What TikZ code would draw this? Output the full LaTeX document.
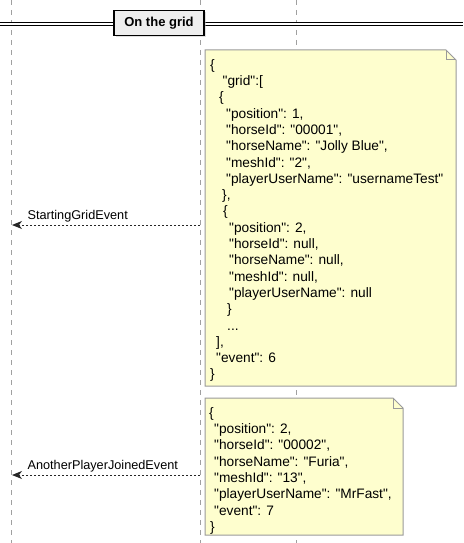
\documentclass[tikz,border=0pt]{standalone}
\usepackage{fontspec}
\setmainfont{Liberation Sans}[Ligatures=TeXOff]
\usetikzlibrary{arrows.meta,positioning,shadows}
\definecolor{notefill}{HTML}{FEFECE}
\definecolor{noteline}{HTML}{9A9A9A}
\definecolor{lifegray}{HTML}{A0A0A0}
\definecolor{divfill}{HTML}{EEEEEE}

\begin{document}
\begin{tikzpicture}[x=1pt,y=-1pt,
   life/.style={lifegray,line width=1pt,dash pattern=on 5pt off 5pt},
   msg/.style={black!85,line width=1pt,dash pattern=on 2pt off 2pt,-{Stealth[length=10pt,width=8pt,inset=3pt]},shorten >=1pt},
   lbl/.style={font=\fontsize{12.7}{15}\selectfont,anchor=base west,inner sep=0pt,text=black},
   note/.style={draw=noteline,fill=notefill,line width=1pt},
   json/.style={font=\fontsize{13.7}{16.3}\selectfont,align=left,anchor=north west,inner sep=0pt},
   divider/.style={draw=black,line width=1.5pt,fill=divfill,font=\bfseries\fontsize{13}{15}\selectfont,
      minimum width=90pt,minimum height=25pt,inner sep=0pt,
      drop shadow={shadow xshift=2pt,shadow yshift=-2pt,fill=black!25}}]
   \useasboundingbox (0,0) rectangle (463,543);
   \foreach \n/\x in {0/11,1/200,2/296}
      \draw[life] (\x,0) coordinate (l_\n) -- (\x,543);

   \draw[double,double distance=2pt,line width=1pt] (0,24) -- (463,24);
   \node[divider] (grid) at (159,23) {On the grid};

   \draw[note] (205,50) -- (446,50) -- (456,60) -- (456,386) -- (205,386) -- cycle;
   \draw[note,fill=none] (446,50) -- (446,60) -- (456,60);
   \node[json] (grid_note) at (210,57.6) {\strut\{\\
      \hspace*{12.5pt}"grid":[\\
      \hspace*{9pt}\{\\
      \hspace*{16pt}"position": 1,\\
      \hspace*{16pt}"horseId": "00001",\\
      \hspace*{16pt}"horseName": "Jolly Blue",\\
      \hspace*{16pt}"meshId": "2",\\
      \hspace*{16pt}"playerUserName": "usernameTest"\\
      \hspace*{12pt}\},\\
      \hspace*{13pt}\{\\
      \hspace*{19pt}"position": 2,\\
      \hspace*{19pt}"horseId": null,\\
      \hspace*{19pt}"horseName": null,\\
      \hspace*{19pt}"meshId": null,\\
      \hspace*{19pt}"playerUserName": null\\
      \hspace*{17pt}\}\\
      \hspace*{17pt}...\\
      \hspace*{6pt}],\\
      \hspace*{6pt}"event": 6\\
      \}};

   \draw[note] (205,398) -- (393,398) -- (403,408) -- (403,535) -- (205,535) -- cycle;
   \draw[note,fill=none] (393,398) -- (393,408) -- (403,408);
   \node[json] (join_note) at (209,405.6) {\strut\{\\
      \hspace*{5pt}"position": 2,\\
      \hspace*{5pt}"horseId": "00002",\\
      \hspace*{5pt}"horseName": "Furia",\\
      \hspace*{5pt}"meshId": "13",\\
      \hspace*{5pt}"playerUserName": "MrFast",\\
      \hspace*{5pt}"event": 7\\
      \hspace*{1pt}\}};

   \coordinate (s_0) at (200,225);
   \coordinate (c_0) at (11,225);
   \coordinate (s_1) at (200,475);
   \coordinate (c_1) at (11,475);
   \path[msg]
   (s_0) edge node[lbl,pos=0.915,yshift=5.2pt] {StartingGridEvent} (c_0)
   (s_1) edge node[lbl,pos=0.915,yshift=5.2pt] {AnotherPlayerJoinedEvent} (c_1);
\end{tikzpicture}
\end{document}
